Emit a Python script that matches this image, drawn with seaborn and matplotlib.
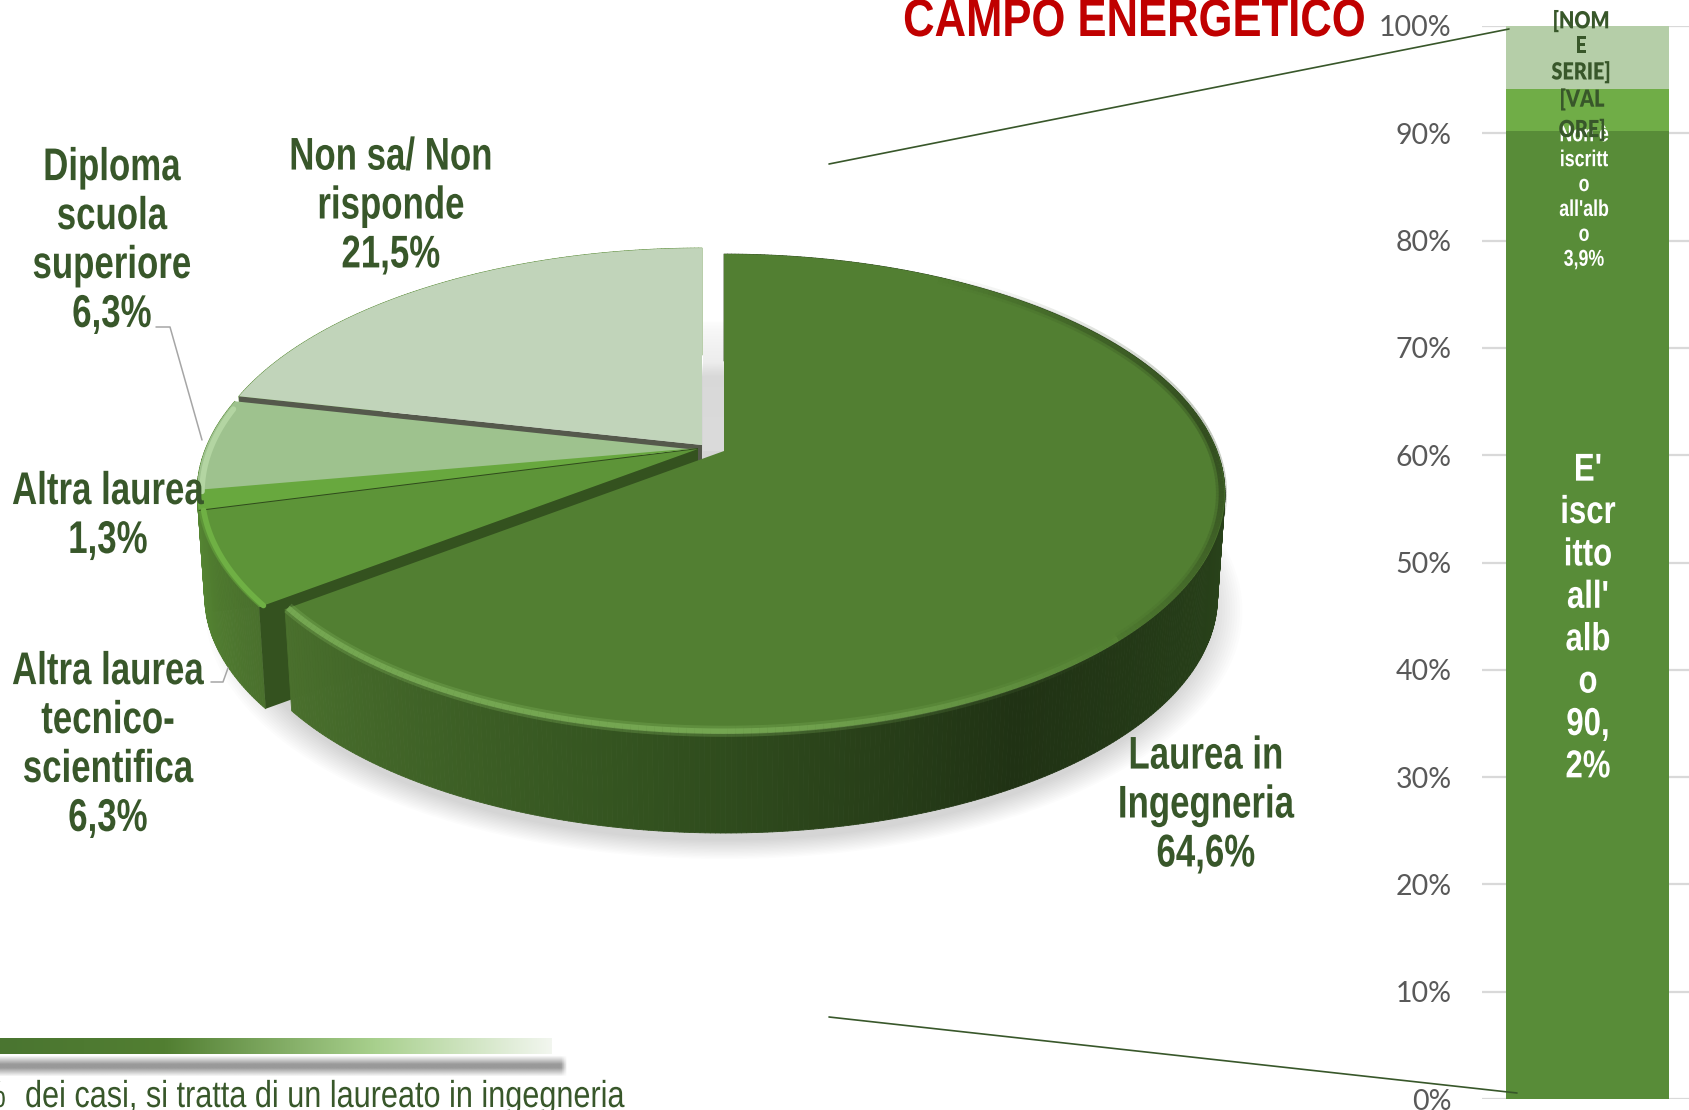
import numpy as np
import matplotlib
matplotlib.use('Agg')
import matplotlib.pyplot as plt
from matplotlib.collections import PolyCollection, LineCollection
from matplotlib.colors import LinearSegmentedColormap
from matplotlib.patheffects import AbstractPathEffect
from matplotlib.transforms import Affine2D
import seaborn as sns

# pie data, clockwise from 12 o'clock
pie_labels = ['Laurea in\nIngegneria\n64,6%', 'Altra laurea\ntecnico-\nscientifica\n6,3%',
              'Altra laurea\n1,3%', 'Diploma\nscuola\nsuperiore\n6,3%', 'Non sa/ Non\nrisponde\n21,5%']
pie_values = [64.6, 6.3, 1.3, 6.3, 21.5]
pie_colors = ['#527F32', '#5D9438', '#68A83E', '#9EC28E', '#C1D4BA']

# stacked bar data
bar_names = ["E' iscritto all'albo", "Non è iscritto all'albo", 'Non sa']
bar_values = [90.2, 3.9, 5.9]
bar_colors = ['#588C38', '#70AD47', '#B5CEA8']
bar_ticks = [0, 10, 20, 30, 40, 50, 60, 70, 80, 90, 100]

DARK = '#38572A'
SANS = ['Liberation Sans', 'DejaVu Sans']

sns.set_theme(style='white')
plt.rcParams['font.family'] = ['Lato', 'DejaVu Sans']

fig = plt.figure(figsize=(16.9, 11.1), dpi=100)


class Squeeze(AbstractPathEffect):
    # narrows a text around a vertical line, no narrow font is installed
    def __init__(self, cx, sx):
        super().__init__()
        self.cx = cx
        self.sx = sx

    def draw_path(self, renderer, gc, tpath, affine, rgbFace=None):
        squeeze = Affine2D().translate(-self.cx, 0).scale(self.sx, 1).translate(self.cx, 0)
        renderer.draw_path(gc, tpath, affine + squeeze, rgbFace)


def narrow_text(x, y, s, sx, ha='center', **kw):
    t = ax.text(x, y, s, ha=ha, **kw)
    t.set_path_effects([Squeeze(x, sx)])
    return t


# bar on the right
bax = fig.add_axes([1482 / 1690, 1 - 1099 / 1110, 211 / 1690, 1073 / 1110])
tops = np.cumsum(bar_values)
for i in [2, 1, 0]:
    sns.barplot(x=['a'], y=[tops[i]], color=bar_colors[i], saturation=1, width=0.777, ax=bax, zorder=3,
                edgecolor='none', linewidth=0)
bax.set_ylim(0, 100)
bax.set_yticks(bar_ticks)
bax.set_yticklabels([str(t) + '%' for t in bar_ticks], fontsize=20.5, color='#595959')
bax.set_xticks([])
bax.set_xlabel('')
bax.set_ylabel('')
bax.tick_params(axis='y', length=0, pad=22)
bax.grid(axis='y', color='#D9D9D9', lw=1.6)
bax.set_axisbelow(True)
sns.despine(ax=bax, left=True, bottom=True)

# overlay in pixel coordinates for the pie and the texts
ax = fig.add_axes([0, 0, 1, 1])
ax.set_xlim(0, 1690)
ax.set_ylim(1110, 0)
ax.axis('off')
ax.patch.set_alpha(0)

APEX_X, APEX_Y = 724, 451
R, RS, K = 493, 232, 0.178
DEPTH = 104
offsets = [(0, 0), (-26, -2), (-26, -3), (-26, -1), (-22, -6)]


def rim(deg, off=(0, 0), drop=0, scale=1.0):
    t = np.radians(deg)
    w = 1 + K * np.cos(t)
    x = APEX_X + off[0] + scale * R * np.sin(t) / w
    y = APEX_Y + off[1] + drop - scale * RS * np.cos(t) / w
    return x, y


# soft shadow under the pie
for s in np.linspace(1.035, 0.97, 14):
    a = np.linspace(0, 360, 200)
    x, y = rim(a, (0, 0), DEPTH + 12, s)
    ax.fill(x, y, color='#000000', alpha=0.012, lw=0, zorder=1)

# light side visible in the gap at 12 o'clock
gap = np.ones((60, 2, 4)) * 0.86
gap[..., 3] = np.linspace(0, 1, 60)[:, None] ** 0.6
ax.imshow(gap, extent=(703, 724, 451, 320), aspect='auto', zorder=1.5)

wall_stops = [0, 100, 130, 150, 190, 232.6, 255.3, 290]
wall_rgb = np.array([[50, 78, 32], [42, 68, 27], [36, 58, 23], [32, 50, 20], [52, 84, 32],
                     [74, 112, 45], [84, 132, 50], [90, 140, 55]]) / 255

edges = np.concatenate([[0], np.cumsum(pie_values)]) * 3.6
# painted from the back slice to the front one
for i in [4, 3, 2, 1, 0]:
    a0, a1 = edges[i], edges[i + 1]
    off = offsets[i]
    ang = np.linspace(a0, a1, max(int(a1 - a0) * 2, 6))
    # outer wall
    xt, yt = rim(ang, off)
    xb, yb = rim(ang, off, DEPTH, 0.985)
    polys = [[(xt[j], yt[j]), (xt[j + 1], yt[j + 1]), (xb[j + 1], yb[j + 1]), (xb[j], yb[j])]
             for j in range(len(ang) - 1)]
    mid = (ang[:-1] + ang[1:]) / 2
    cols = np.column_stack([np.interp(mid, wall_stops, wall_rgb[:, c]) for c in range(3)])
    ax.add_collection(PolyCollection(polys, facecolors=cols, edgecolors=cols, linewidths=0.6, zorder=2 + (4 - i) * 0.5))
    # cut face on the side towards the viewer
    if i > 0:
        x0, y0 = rim(a0, off)
        x1, y1 = rim(a0, off, DEPTH, 0.985)
        cut = '#34521F' if i == 1 else ('#55594C' if i == 4 else '#2F4A1C')
        ax.fill([APEX_X + off[0], x0, x1, APEX_X + off[0]], [APEX_Y + off[1], y0, y1, APEX_Y + off[1] + DEPTH],
                color=cut, lw=0, zorder=2.1 + (4 - i) * 0.5)
    # top face
    xs, ys = rim(ang, off)
    ax.fill(np.r_[APEX_X + off[0], xs], np.r_[APEX_Y + off[1], ys], color=pie_colors[i], lw=0,
            zorder=2.2 + (4 - i) * 0.5)

# bevel along the rim
ang = np.linspace(0, 232.6, 300)
x, y = rim(ang, offsets[0], 0, 0.993)
pts = np.column_stack([x, y])
segs = np.stack([pts[:-1], pts[1:]], axis=1)
mid = (ang[:-1] + ang[1:]) / 2
light = np.clip((mid - 135) / 45, 0, 1)
dark = np.clip(1 - np.abs(mid - 85) / 55, 0, 1)
for width, fade in [(8, 0.3), (4, 0.65)]:
    seg_cols = np.zeros((len(mid), 4))
    seg_cols[:, :3] = np.outer(light > 0, [0.50, 0.70, 0.36]) + np.outer(light <= 0, [0.16, 0.24, 0.10])
    seg_cols[:, 3] = np.maximum(light * fade, dark * fade)
    ax.add_collection(LineCollection(segs, colors=seg_cols, linewidths=width, zorder=5))

ang = np.linspace(edges[1], edges[2], 40)
x, y = rim(ang, offsets[1], 0, 0.99)
ax.plot(x, y, color='#6FB044', lw=4, zorder=5)
ang = np.linspace(edges[3], edges[4] - 2, 40)
x, y = rim(ang, offsets[3], 0, 0.99)
ax.plot(x, y, color='#B3D5A2', lw=4, zorder=5)

# pie labels
label_pos = [(1206, 805.5), (108, 745.5), (108, 516.5), (112, 241.5), (391, 206.5)]
for txt, (lx, ly) in zip(pie_labels, label_pos):
    narrow_text(lx, ly, txt, 0.76, va='center', family=SANS, fontweight='bold', fontsize=33,
                color=DARK, linespacing=1.145, zorder=6)

# leader lines
ax.plot([156, 170, 202], [327, 327, 440], color='#A6A6A6', lw=1.1, zorder=6)
ax.plot([211, 223, 228], [682, 682, 668], color='#A6A6A6', lw=1.1, zorder=6)

# lines from the pie to the bar
ax.plot([829, 1509], [164, 29], color=DARK, lw=1.2, zorder=8)
ax.plot([829, 1517], [1017, 1093], color=DARK, lw=1.2, zorder=8)

# bar labels
narrow_text(1584, 197, "Non è\niscritt\no\nall'alb\no\n3,9%", 0.775, va='center', family=SANS,
            fontweight='bold', fontsize=16.5, color='white', linespacing=1.105, zorder=7)
narrow_text(1588, 619, "E'\niscr\nitto\nall'\nalb\no\n90,\n2%", 0.80, va='center', family=SANS,
            fontweight='bold', fontsize=28, color='white', linespacing=1.228, zorder=7)
narrow_text(1581, 46, '[NOM\nE\nSERIE]', 0.84, va='center', fontweight='heavy', fontsize=17,
            color=DARK, linespacing=1.14, zorder=7.5)
narrow_text(1582, 114, '[VAL\nORE]', 0.84, va='center', fontweight='heavy', fontsize=17,
            color=DARK, linespacing=1.33, zorder=7.5)

# title, cut by the top edge
narrow_text(1134, 36, 'CAMPO ENERGETICO', 0.826, va='baseline', family=SANS, fontweight='bold',
            fontsize=38, color='#C00000', zorder=7)

# decorative band and its shadow at the bottom left
cmap = LinearSegmentedColormap.from_list('band', [(0, '#4A7530'), (0.3, '#527F32'), (0.68, '#A8D08D'), (1, '#F2F6EF')])
ax.imshow(np.linspace(0, 1, 256)[None, :], cmap=cmap, extent=(0, 552, 1054, 1038), aspect='auto', zorder=3)
rows = np.clip(np.minimum(np.linspace(0, 1, 24), np.linspace(1, 0, 24)) * 2.4, 0, 1)
cols = np.clip((568 - np.linspace(0, 570, 300)) / 6, 0, 1)
rgba = np.zeros((24, 300, 4))
rgba[..., :3] = 0.6
rgba[..., 3] = np.outer(rows, cols)
ax.imshow(rgba, extent=(0, 570, 1077, 1055), aspect='auto', zorder=3)
ax.set_xlim(0, 1690)
ax.set_ylim(1110, 0)

# sentence cut by the bottom edge
narrow_text(25, 1107, 'dei casi, si tratta di un laureato in ingegneria', 0.817, ha='left', va='baseline',
            family=SANS, fontsize=27, color=DARK, zorder=7)
narrow_text(6, 1107, '%', 0.817, ha='right', va='baseline', family=SANS, fontsize=27, color=DARK, zorder=7)

fig.savefig('out.png', dpi=100)
